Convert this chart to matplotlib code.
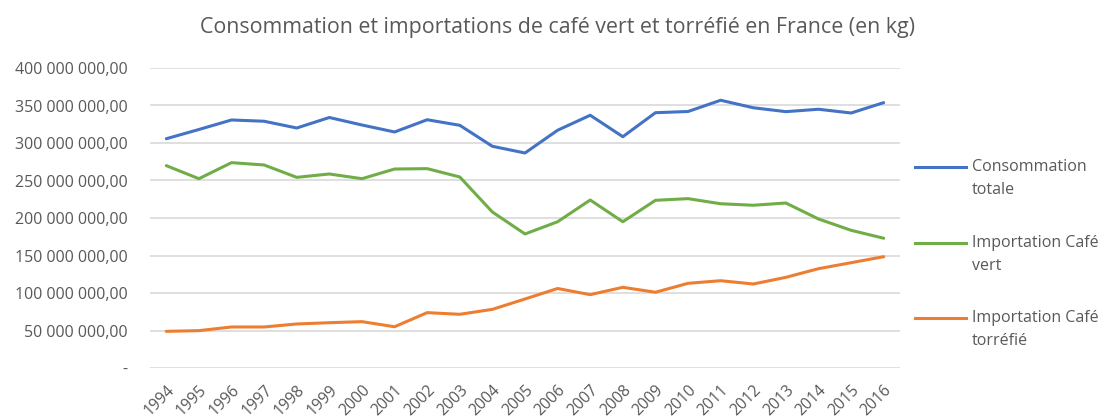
import matplotlib.pyplot as plt
from matplotlib.lines import Line2D
from matplotlib.ticker import FuncFormatter

plt.rcParams['font.family'] = ['Open Sans', 'DejaVu Sans']

years = [str(y) for y in range(1994, 2017)]

# valeurs en kg
consommation = [305.7e6, 318e6, 330.7e6, 329e6, 320e6, 334e6, 324e6, 314.7e6,
                 331e6, 323.6e6, 295.6e6, 286.7e6, 317e6, 337e6, 308.4e6, 340.4e6,
                 342e6, 357e6, 347e6, 341.8e6, 345e6, 340e6, 353.8e6]
import_vert = [269.8e6, 252.4e6, 273.8e6, 270.7e6, 254.2e6, 258.7e6, 252.4e6, 265.3e6,
               265.8e6, 254.7e6, 208e6, 178.7e6, 195e6, 224e6, 195e6, 223.6e6,
               225.8e6, 219e6, 217e6, 220e6, 198.7e6, 183.6e6, 173e6]
import_torrefie = [48.9e6, 49.8e6, 54.7e6, 54.7e6, 58.7e6, 60.4e6, 61.8e6, 55e6,
                   73.8e6, 71.6e6, 78.2e6, 92e6, 106e6, 97.8e6, 107.6e6, 101e6,
                   112.9e6, 116.4e6, 112e6, 120.9e6, 132.4e6, 140.4e6, 148.4e6]

series = [
    ("Consommation\ntotale", consommation, "#4472C4"),
    ("Importation Café\nvert", import_vert, "#70AD47"),
    ("Importation Café\ntorréfié", import_torrefie, "#ED7D31"),
]

txt = "#595959"
W, H = 1102, 419

fig = plt.figure(figsize=(W / 100, H / 100), dpi=100)
ax = fig.add_axes([150 / W, 51 / H, 750 / W, 300 / H])

x = range(len(years))
for label, vals, col in series:
    ax.plot(x, vals, color=col, linewidth=2.2, solid_capstyle='round')

ax.set_xlim(-0.5, len(years) - 0.5)
ax.set_ylim(0, 400e6)
ax.set_yticks([i * 50e6 for i in range(9)])


def fmt(v, pos):
    if v == 0:
        return "-"
    return f"{v:,.2f}".replace(",", " ").replace(".", ",")


ax.yaxis.set_major_formatter(FuncFormatter(fmt))
ax.set_xticks(list(x))
ax.set_xticklabels(years, rotation=45, ha='right', rotation_mode='anchor')
ax.tick_params(axis='y', length=0, pad=16, labelsize=11.5, labelcolor=txt)
ax.tick_params(axis='x', length=0, pad=10, labelsize=11.3, labelcolor=txt)
ax.grid(axis='y', color='#d9d9d9', linewidth=1.2)
ax.set_axisbelow(True)
for s in ax.spines.values():
    s.set_visible(False)

fig.text(557 / W, 1 - 27 / H, "Consommation et importations de café vert et torréfié en France (en kg)",
         ha='center', va='center', fontsize=15.4, color=txt)

# légende à droite
leg_y = [167, 243, 318]
for (label, vals, col), yy in zip(series, leg_y):
    yf = 1 - yy / H
    fig.add_artist(Line2D([915 / W, 966 / W], [yf, yf], color=col, linewidth=2.2))
    for i, line in enumerate(label.split("\n")):
        fig.text(972 / W, yf - i * 23 / H, line, ha='left', va='center',
                 fontsize=11.5, color=txt)

fig.savefig("out.png", dpi=100)
